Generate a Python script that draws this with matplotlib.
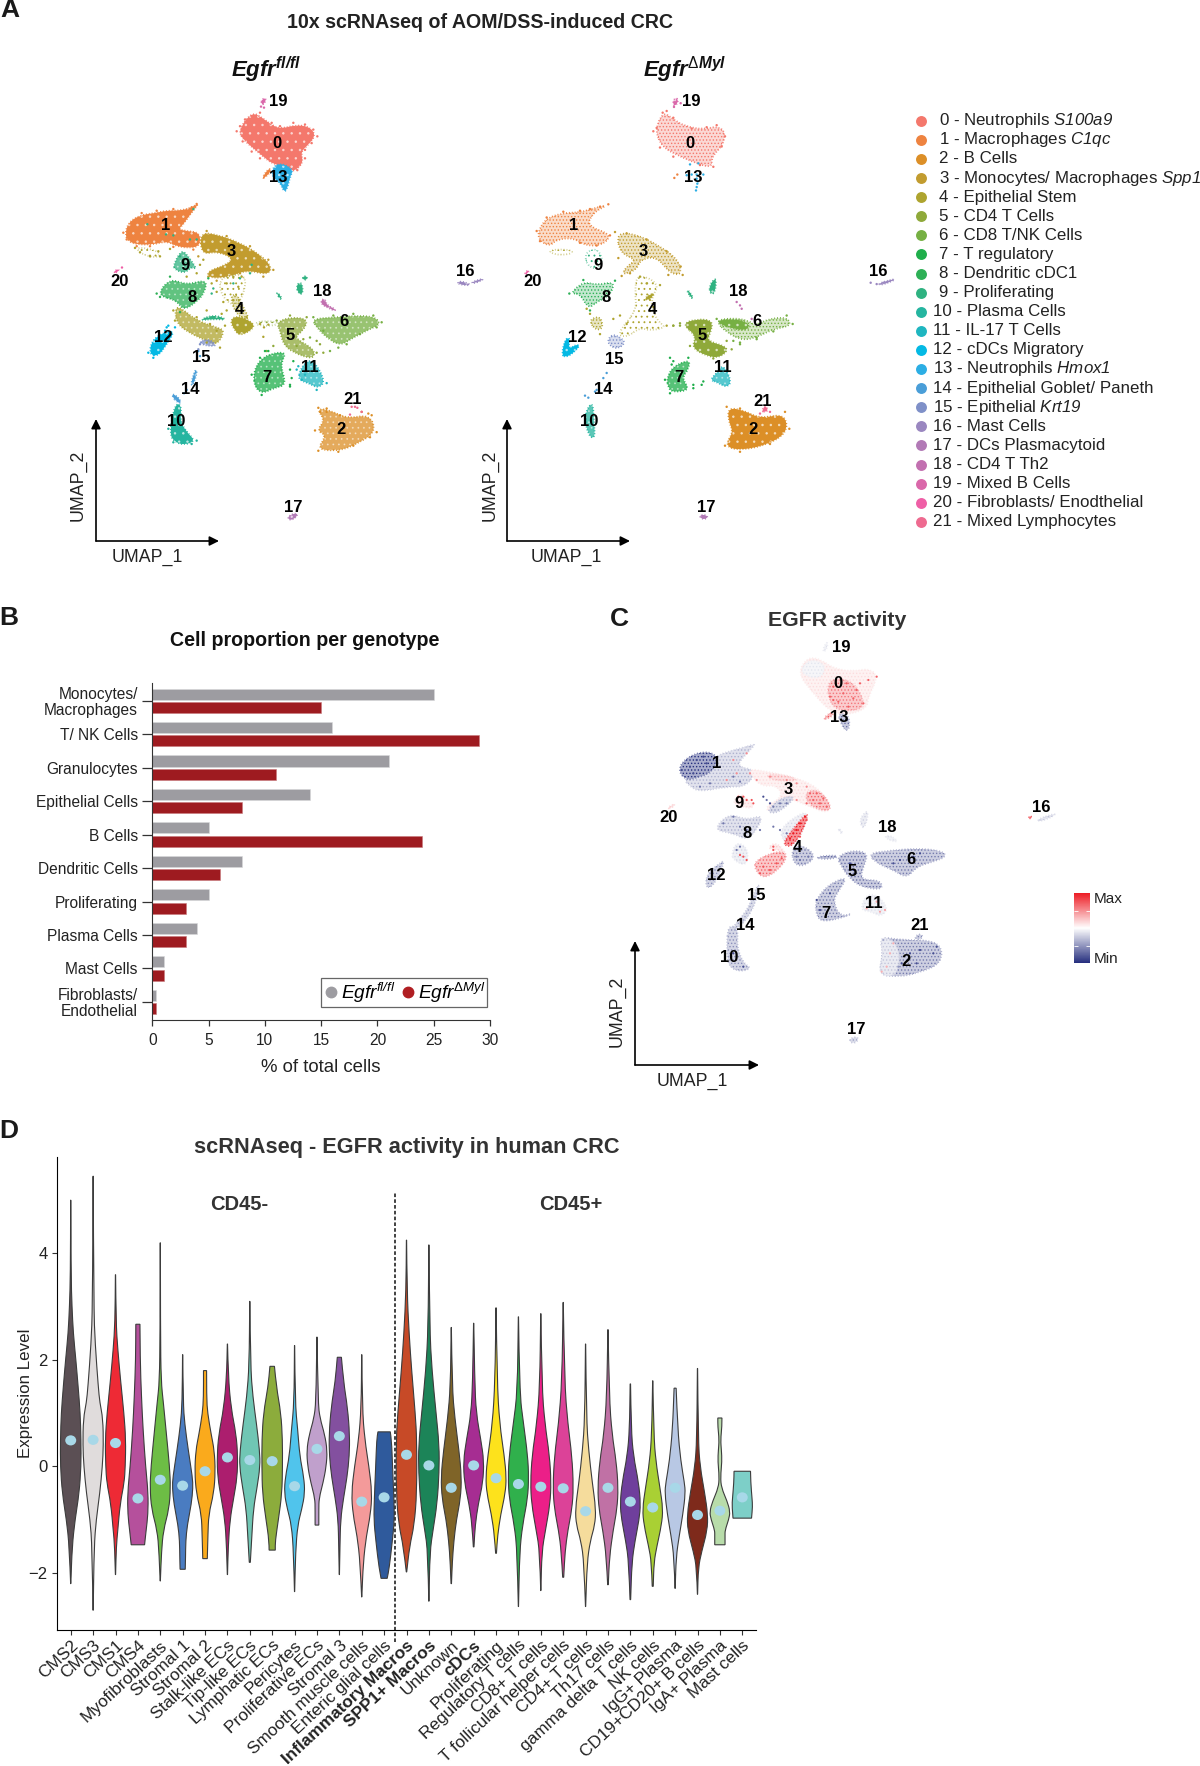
import numpy as np
import matplotlib
matplotlib.use('Agg')
import matplotlib.pyplot as plt
from matplotlib.colors import LinearSegmentedColormap, Normalize
from matplotlib.cm import ScalarMappable
from matplotlib.lines import Line2D
from matplotlib.patches import Ellipse, PathPatch
from matplotlib.path import Path

plt.rcParams['font.family'] = ['Liberation Sans', 'DejaVu Sans']
plt.rcParams['mathtext.fontset'] = 'custom'
plt.rcParams['mathtext.rm'] = 'Liberation Sans'
plt.rcParams['mathtext.it'] = 'Liberation Sans:italic'
plt.rcParams['mathtext.sf'] = 'Liberation Sans:italic'
plt.rcParams['mathtext.bf'] = 'Liberation Sans:bold'
plt.rcParams['mathtext.bfit'] = 'Liberation Sans:italic:bold'
plt.rcParams['hatch.linewidth'] = 0.6

W, H = 1200, 1766

# Cluster names and colours
cluster_names = ['0 - Neutrophils $\\mathsf{S100a9}$', '1 - Macrophages $\\mathsf{C1qc}$', '2 - B Cells',
                 '3 - Monocytes/ Macrophages $\\mathsf{Spp1}$', '4 - Epithelial Stem', '5 - CD4 T Cells',
                 '6 - CD8 T/NK Cells', '7 - T regulatory', '8 - Dendritic cDC1', '9 - Proliferating',
                 '10 - Plasma Cells', '11 - IL-17 T Cells', '12 - cDCs Migratory', '13 - Neutrophils $\\mathsf{Hmox1}$',
                 '14 - Epithelial Goblet/ Paneth', '15 - Epithelial $\\mathsf{Krt19}$', '16 - Mast Cells',
                 '17 - DCs Plasmacytoid', '18 - CD4 T Th2', '19 - Mixed B Cells', '20 - Fibroblasts/ Enodthelial',
                 '21 - Mixed Lymphocytes']
cluster_colors = ['#f4786c', '#ee8340', '#dc8f27', '#c29c2f', '#aea42f', '#8fa93a', '#76b043', '#1fae4b',
                  '#2db056', '#2fb281', '#25b5a0', '#1fb6c0', '#04b9e4', '#2caee4', '#4a9ed8', '#7f90c8',
                  '#9a87c0', '#b27ab6', '#c270b0', '#da68aa', '#ef5fa6', '#ee6a90']

# UMAP regions of the Egfr fl/fl sample: cluster, density, outline
wt_regions = [
    (0, 'solid', [(535,268),(575,212),(610,232),(640,255),(665,262),(705,252),(745,255),(768,280),(745,310),(722,330),(730,365),(700,390),(690,378),(640,368),(610,345),(580,320),(550,295)]),
    (13, 'solid', [(640,372),(670,365),(700,385),(690,405),(682,440),(672,450),(660,420),(635,405)]),
    (1, 'solid', [(605,410),(625,380),(635,385),(618,405)]),
    (19, 'solid', [(605,175),(620,172),(612,190),(604,190)]),
    (1, 'solid', [(195,575),(205,540),(240,518),(285,512),(318,505),(350,505),(385,500),(418,482),(395,510),(370,545),(355,560),(380,565),(420,570),(420,610),(385,615),(350,610),(320,595),(280,605),(230,605),(205,595)]),
    (4, 'sparse', [(225,610),(300,625),(295,645),(245,635)]),
    (3, 'solid', [(420,570),(470,575),(540,600),(600,635),(635,670),(625,695),(560,680),(510,700),(450,705),(440,685),(500,665),(520,645),(470,625),(425,635)]),
    (9, 'dense', [(340,665),(365,620),(385,640),(412,680),(395,670),(375,690),(345,680)]),
    (8, 'dense', [(290,755),(330,705),(380,725),(440,708),(435,745),(410,775),(370,800),(350,770)]),
    (4, 'sparse', [(480,700),(560,690),(550,760),(520,790),(480,750)]),
    (4, 'dense', [(345,795),(360,790),(410,830),(470,850),(495,860),(470,905),(430,885),(395,870),(350,840)]),
    (4, 'solid', [(510,830),(530,815),(580,835),(580,855),(540,875),(525,860)]),
    (4, 'mid', [(510,760),(530,750),(550,790),(570,830),(530,815)]),
    (9, 'solid', [(415,830),(460,812),(505,828),(460,825)]),
    (5, 'dense', [(650,835),(690,820),(745,825),(730,860),(700,880),(765,915),(760,945),(700,925),(670,900),(660,860)]),
    (5, 'sparse', [(590,832),(650,832),(650,845),(590,845)]),
    (6, 'dense', [(755,825),(830,820),(900,815),(945,820),(962,840),(930,855),(880,880),(840,905),(800,880),(770,850)]),
    (7, 'dense', [(580,985),(600,945),(640,925),(680,925),(660,960),(680,1020),(640,1030),(610,1045),(585,1030)]),
    (11, 'dense', [(720,975),(745,945),(770,960),(795,1010),(775,1030),(745,1015),(715,1005)]),
    (12, 'solid', [(268,930),(275,890),(310,865),(345,860),(320,900),(295,935)]),
    (15, 'dense', [(420,890),(450,885),(470,905),(445,905),(425,900)]),
    (14, 'solid', [(392,1020),(405,975),(412,980),(400,1020)]),
    (14, 'solid', [(333,1050),(345,1048),(365,1070),(355,1075)]),
    (10, 'solid', [(345,1075),(365,1080),(360,1130),(385,1165),(405,1185),(375,1198),(345,1190),(328,1165)]),
    (2, 'dense', [(770,1090),(810,1095),(860,1120),(930,1108),(948,1160),(890,1195),(840,1215),(770,1212),(800,1170),(770,1155),(795,1125)]),
    (17, 'solid', [(683,1408),(712,1398),(710,1412),(688,1422)]),
    (18, 'solid', [(783,770),(795,765),(800,785),(825,795),(825,802),(800,790),(785,782)]),
    (20, 'solid', [(160,685),(178,676),(170,690)]),
    (9, 'solid', [(708,725),(725,715),(730,750),(716,752)]),
    (9, 'solid', [(650,750),(654,747),(666,765),(662,767)]),
    (9, 'solid', [(728,700),(740,698),(742,708),(730,710)]),
]
# Scattered cells outside the regions above: cluster, x, y
wt_cells_c = ([4]*30 + [9]*13 + [5]*7 + [6]*3 + [7]*5 + [11]*2 + [12]*4 + [14]*4 + [15]*2 + [2]*4 + [21]*5 + [19]*2 + [20]
              + [0]*18 + [1]*12 + [3]*10 + [6]*9 + [5]*4 + [2]*10 + [7]*5 + [11]*4 + [10]*4 + [12]*2 + [8]*5 + [4]*4)
wt_cells_x = [225,240,270,295,300,330,430,420,410,380,455,470,500,520,490,520,500,485,440,410,450,495,600,612,625,610,470,560,545,535,
              570,540,520,575,460,455,390,410,318,340,262,400,360,
              620,640,730,780,790,770,710, 810,750,790, 615,700,690,695,690, 715,735, 325,315,320,345, 415,420,380,372, 420,415,
              800,780,905,935, 875,885,892,870,905, 603,612, 186,
              540,555,575,600,635,660,700,735,760,772,755,735,735,712,600,575,548,530,
              190,200,215,245,290,340,395,410,230,270,340,400,
              440,500,570,625,640,610,540,470,445,415,
              940,965,950,900,860,835,760,820,880, 650,690,740,770,
              775,800,840,925,950,930,880,835,775,765, 575,600,625,690,605, 710,725,800,770,
              325,340,395,410, 265,280, 290,300,330,445,360, 340,345,480,440]
wt_cells_y = [615,628,640,625,640,618,650,665,690,700,720,745,720,700,775,770,800,810,800,820,840,845,840,850,842,878,860,820,700,730,
              690,705,720,665,735,750,590,590,575,578,545,500,640,
              920,905,885,900,925,890,905, 920,880,860, 920,950,975,1000,1020, 965,990, 845,860,850,850, 920,935,1035,1045, 900,915,
              1100,1100,1100,1110, 1085,1085,1088,1108,1100, 197,200, 673,
              255,235,225,215,245,255,245,250,265,285,305,325,350,385,350,330,300,270,
              570,590,540,512,505,500,495,485,610,610,612,620,
              565,580,610,650,680,700,690,712,700,640,
              815,835,850,870,900,910,820,815,810, 830,815,820,925,
              1088,1090,1110,1105,1160,1175,1200,1218,1215,1155, 990,940,920,1025,1050, 975,1005,1015,1035,
              1150,1190,1195,1185, 925,940, 750,760,700,705,805, 800,830,910,895]

# UMAP regions of the Egfr dMyl sample, which also holds both mast cell tails
ko_regions = [
    (0, 'mid', [(645,265),(670,212),(700,235),(735,255),(790,265),(830,255),(855,270),(850,310),(815,345),(815,378),(770,365),(710,340),(665,315)]),
    (19, 'solid', [(700,175),(714,172),(712,190),(700,195)]),
    (1, 'mid', [(293,570),(315,530),(365,512),(420,510),(465,497),(505,487),(460,510),(440,550),(515,575),(490,605),(440,610),(400,585),(350,590),(330,610),(300,595)]),
    (4, 'sparse', [(325,620),(400,620),(390,635),(340,635)]),
    (3, 'mid', [(530,570),(590,575),(660,610),(715,650),(725,695),(690,690),(650,640),(600,650),(590,680),(545,695),(560,670),(590,650),(540,630)]),
    (9, 'sparse', [(435,630),(470,615),(490,650),(470,680),(440,665)]),
    (8, 'mid', [(390,750),(430,715),(470,725),(525,715),(510,755),(470,775),(445,795),(420,750)]),
    (4, 'sparse', [(590,690),(660,720),(630,770),(650,830),(680,850),(630,860),(600,850),(560,880),(530,870),(590,800),(585,750)]),
    (4, 'solid', [(610,765),(645,745),(630,770)]),
    (4, 'mid', [(445,830),(480,815),(490,850),(470,860)]),
    (15, 'mid', [(505,880),(525,870),(560,895),(530,915),(505,900)]),
    (12, 'solid', [(365,930),(375,885),(390,880),(385,915),(410,900),(420,905),(395,930),(375,938)]),
    (10, 'dense', [(432,1110),(458,1065),(462,1130),(465,1180),(445,1170)]),
    (7, 'dense', [(680,1000),(700,965),(750,945),(745,975),(725,1000),(750,1035),(700,1042),(685,1030)]),
    (5, 'solid', [(725,840),(770,825),(820,830),(810,870),(800,890),(870,910),(840,940),(800,935),(755,910),(770,875)]),
    (6, 'mid', [(825,830),(880,822),(925,830),(945,845),(985,825),(1040,820),(1055,845),(1000,855),(960,875),(910,890),(860,865)]),
    (6, 'solid', [(825,830),(890,825),(930,840),(920,860),(860,850)]),
    (11, 'dense', [(810,1005),(835,980),(850,960),(875,1010),(860,1028),(830,1012)]),
    (2, 'solid', [(865,1088),(910,1095),(960,1120),(1035,1105),(1043,1165),(960,1205),(880,1213),(857,1195),(880,1160),(865,1125)]),
    (21, 'solid', [(965,1098),(975,1080),(985,1095),(975,1100)]),
    (17, 'solid', [(778,1405),(800,1405),(803,1415),(785,1418)]),
    (20, 'solid', [(253,690),(268,678),(262,692)]),
    (16, 'solid', [(1315,720),(1365,706),(1360,712),(1322,726)]),
    (16, 'solid', [(95,716),(130,705),(126,711),(100,721)]),
    (16, 'solid', [(52,714),(75,716),(95,726),(58,724)]),
    (9, 'solid', [(740,742),(745,740),(760,762),(755,765)]),
    (9, 'solid', [(808,725),(830,700),(825,750),(810,750)]),
]
ko_cells_c = ([13]*11 + [1]*2 + [14]*6 + [18]*4 + [19]*2 + [4]*12 + [5]*4 + [6]*3 + [7]*5 + [21]*2 + [16]*3
              + [0]*14 + [1]*11 + [3]*10 + [2]*7 + [6]*6 + [5]*4 + [7]*5 + [8]*4)
ko_cells_x = [750,775,740,755,770,790,770,772,770,768,774, 703,712, 500,490,470,465,435,445, 890,900,905,935, 722,702,
              600,620,660,520,540,680,700,480,450,440,640,560, 700,720,750,860, 880,900,950, 690,700,760,785,790, 990,960, 1292,1310,1330,
              650,668,680,700,755,800,830,855,845,820,780,700,660,640,
              290,300,320,370,420,450,480,505,510,470,420,
              525,560,620,680,722,728,685,545,535,570,
              860,900,1035,1048,990,900,855, 830,1040,1058,1000,950,900, 720,750,875,820,
              675,695,745,690,760, 388,430,525,450]
ko_cells_y = [368,365,400,398,398,398,410,425,435,445,418, 408,398, 985,1000,1035,1040,1052,1058, 775,785,795,825, 187,198,
              700,720,725,825,815,845,845,870,810,795,790,840, 845,845,850,890, 890,900,885, 940,950,1020,1020,1010, 1100,1105, 718,722,718,
              260,215,210,230,262,258,252,285,315,375,370,345,318,270,
              565,595,525,508,505,500,493,486,578,608,600,
              568,572,590,625,670,695,695,698,645,690,
              1085,1090,1100,1150,1195,1218,1200, 825,815,840,862,880,895, 838,905,915,942,
              1005,960,940,1045,1030, 750,710,712,800]

# EGFR activity regions: activity (-1 Min .. 1 Max), outline
egfr_regions = [
    (0.1, [(592,218),(625,170),(665,180),(700,205),(760,215),(805,205),(835,228),(805,290),(800,325),(745,345),(690,335),(640,280)]),
    (0.4, [(680,235),(760,240),(800,320),(745,335),(690,320)]),
    (-0.08, [(595,218),(630,175),(680,195),(660,240)]),
    (-0.45, [(715,340),(745,345),(750,380),(738,395),(720,365)]),
    (0.5, [(670,355),(695,335),(700,345),(680,358)]),
    (-0.1, [(668,150),(680,125),(684,135),(675,155)]),
    (-0.25, [(250,535),(300,525),(340,470),(400,450),(440,440),(470,430),(430,470),(410,500),(470,510),(440,560),(380,560),(300,575),(270,560)]),
    (-0.7, [(235,515),(250,480),(300,455),(345,460),(350,490),(330,520),(285,535),(260,540)]),
    (0.1, [(440,505),(500,515),(580,530),(650,560),(695,615),(680,640),(630,620),(560,590),(510,640),(495,620),(550,590),(530,555),(480,560)]),
    (0.45, [(615,575),(660,570),(695,620),(680,635),(625,615)]),
    (0.25, [(500,520),(580,530),(590,545),(510,540)]),
    (-0.3, [(505,625),(550,590),(590,590),(540,635),(510,640)]),
    (0.12, [(395,610),(420,580),(440,595),(465,620),(440,625)]),
    (-0.25, [(340,690),(385,640),(440,660),(490,645),(470,690),(440,720),(400,700)]),
    (-0.12, [(540,685),(600,640),(625,640),(610,690),(580,735),(550,725)]),
    (0.85, [(550,725),(585,680),(610,650),(625,640),(610,690),(580,735),(560,740)]),
    (-0.12, [(395,760),(410,725),(445,745),(440,800),(400,780)]),
    (0.15, [(500,745),(530,725),(565,770),(540,750)]),
    (0.45, [(465,780),(540,750),(565,770),(530,815),(490,835),(465,810)]),
    (-0.42, [(575,745),(610,735),(650,770),(610,800),(580,790)]),
    (-0.5, [(650,770),(710,765),(710,775),(660,778)]),
    (-0.45, [(710,770),(760,750),(805,760),(790,800),(780,840),(840,840),(850,870),(780,860),(745,830),(725,800)]),
    (-0.42, [(805,760),(870,752),(950,745),(1025,752),(1040,770),(1000,785),(950,800),(920,835),(880,810),(830,790)]),
    (-0.42, [(645,900),(690,850),(745,830),(710,880),(700,905),(720,950),(760,940),(720,955),(670,965),(650,950)]),
    (-0.1, [(780,930),(800,880),(840,890),(865,930),(840,950),(815,935)]),
    (-0.35, [(315,855),(325,815),(360,790),(375,780),(350,840),(330,865)]),
    (-0.3, [(470,860),(478,855),(470,900),(440,960),(405,990),(395,985),(435,940),(455,900)]),
    (-0.35, [(385,975),(415,985),(410,1040),(430,1090),(455,1105),(420,1115),(385,1100),(380,1040)]),
    (-0.42, [(840,1010),(900,1020),(1020,1022),(1028,1090),(950,1120),(900,1130),(835,1125),(850,1060)]),
    (-0.18, [(838,1010),(880,1020),(900,1060),(890,1130),(835,1125),(850,1060)]),
    (-0.4, [(945,1010),(960,1000),(970,1012),(950,1020)]),
    (-0.3, [(750,1315),(775,1310),(770,1328),(750,1328)]),
    (-0.2, [(1312,658),(1365,640),(1362,648),(1320,665)]),
    (0.85, [(1285,648),(1296,650),(1292,658)]),
    (-0.1, [(855,705),(880,710),(895,728),(860,718)]),
    (-0.15, [(778,660),(800,630),(805,650),(790,690)]),
    (-0.15, [(712,680),(730,700),(722,700)]),
    (0.2, [(200,625),(228,608),(215,625)]),
]
egfr_cells_x = [700,730,760,790,770,745,715,700,830,805,780,740,690, 630,640,660,680,650,620,670, 590,600,615,580,570,
                520,430,440,420,490,510,480,530,545,430,460, 290,270,310,245,320,280,740,490,510,905,960,1000,950,1010,930,880,940,960,900,750,760,660,690,650,430,400,
                510,560,590,620,590,450,470,400,440,410,380, 620,600,440,415,520,455,
                500,520,540,560,330,300,360,400,420,480,420,370,400,440,540,560,520,590,600,625,410,420,
                830,840,800,855, 870,860,845,880,850,895]
egfr_cells_y = [260,280,295,310,270,320,305,300,230,240,250,250,290, 580,600,610,620,580,610,595, 690,670,650,700,715,
                740,770,780,765,800,810,820,790,775,590,610, 480,500,470,510,490,520,360,590,610,1090,1050,1060,1090,1040,1060,790,770,760,780,790,810,930,880,900,1100,1060,
                530,540,550,560,600,520,540,480,460,520,540, 660,710,600,590,750,600,
                600,620,610,610,550,560,500,530,545,690,680,670,650,690,690,700,680,770,780,770,750,740,
                905,935,925,930, 1060,1100,1115,1030,1020,1100]
egfr_cells_v = ([0.7]*13 + [0.7]*7 + [1.0]*5 + [0.75]*11 + [-0.85]*26
                + [0.5]*11 + [0.75]*6 + [-0.65]*22 + [0.4]*4 + [0.35]*4 + [-0.4, -0.5])

# Bar chart values
bar_groups = ['Monocytes/\nMacrophages', 'T/ NK Cells', 'Granulocytes', 'Epithelial Cells', 'B Cells',
              'Dendritic Cells', 'Proliferating', 'Plasma Cells', 'Mast Cells', 'Fibroblasts/\nEndothelial']
bar_fl = [25, 16, 21, 14, 5, 8, 5, 4, 1, 0.3]
bar_myl = [15, 29, 11, 8, 24, 6, 3, 3, 1, 0.3]

# Violin labels, colours, centres and outlines (levels and relative widths)
violin_names = ['CMS2', 'CMS3', 'CMS1', 'CMS4', 'Myofibroblasts', 'Stromal 1', 'Stromal 2', 'Stalk-like ECs',
                'Tip-like ECs', 'Lymphatic ECs', 'Pericytes', 'Proliferative ECs', 'Stromal 3', 'Smooth muscle cells',
                'Enteric glial cells', 'Inflammatory Macros', 'SPP1+ Macros', 'Unknown', 'cDCs', 'Proliferating',
                'Regulatory T cells', 'CD8+ T cells', 'T follicular helper cells', 'CD4+ T cells', 'Th17 cells',
                'gamma delta T cells', 'NK cells', 'IgG+ Plasma', 'CD19+CD20+ B cells', 'IgA+ Plasma', 'Mast cells']
violin_bold = ['Inflammatory Macros', 'SPP1+ Macros', 'cDCs']
violin_colors = ['#5b4f54', '#e0dcdc', '#ee2a35', '#b5509c', '#6dbd45', '#4a7cc1', '#faaa1c', '#ac1e6e', '#70c6b4',
                 '#8cac3c', '#50c4ec', '#c0a0cc', '#83509f', '#f49a9a', '#2f5a9c', '#c74a27', '#1c8458', '#7f6428',
                 '#a62d92', '#fde21c', '#30b04c', '#ec1f88', '#dc4298', '#f5dc9c', '#c071a5', '#6f3f9c', '#a9d034',
                 '#b8c8e4', '#7e2a1b', '#b8dcaa', '#7dcfc8']
violin_centers = [0.49, 0.5, 0.44, -0.6, -0.25, -0.36, -0.09, 0.17, 0.12, 0.1, -0.37, 0.33, 0.57, -0.66, -0.58, 0.22,
                  0.02, -0.4, 0.02, -0.22, -0.33, -0.38, -0.41, -0.84, -0.4, -0.66, -0.77, -0.4, -0.91, -0.83, -0.58]
violin_levels = [
    [5.0, 3.6, 3.0, 2.5, 2.0, 1.5, 1.0, 0.5, 0, -0.5, -1, -1.5, -2.2],
    [5.45, 3, 2.3, 1.5, 1.2, 0.9, 0.4, 0, -0.5, -1, -1.5, -2.7],
    [3.6, 2.7, 2.2, 1.6, 1.0, 0.5, 0, -0.3, -0.7, -1.2, -1.5, -2.03],
    [2.67, 2, 1.3, 0.7, 0, -0.5, -0.9, -1.2, -1.47],
    [4.2, 2.5, 1.6, 1.2, 0.6, 0, -0.4, -0.8, -1.2, -1.6, -2.15],
    [2.1, 1.2, 0.8, 0.3, -0.2, -0.4, -0.7, -1.1, -1.4, -1.7, -1.93],
    [1.8, 1.3, 1, 0.6, 0.3, -0.1, -0.5, -0.9, -1.3, -1.73],
    [2.3, 1.7, 1.1, 0.6, 0.2, -0.2, -0.6, -1, -1.5, -2.03],
    [3.1, 1.9, 1.3, 0.8, 0.3, 0, -0.4, -0.8, -1.3, -1.8],
    [1.88, 1.5, 1, 0.5, 0, -0.5, -1, -1.4, -1.57],
    [2.27, 1.2, 0.7, 0.2, -0.2, -0.5, -0.8, -1.1, -1.6, -2.35],
    [2.43, 1.2, 0.9, 0.6, 0.3, 0, -0.3, -0.6, -0.8, -1.1],
    [2.05, 1.6, 1.1, 0.6, 0.2, -0.2, -0.6, -1, -1.5, -2.03],
    [2.1, 1.1, 0.5, 0, -0.5, -0.9, -1.3, -1.8, -2.45],
    [0.65, 0.5, 0, -0.6, -1, -1.4, -1.9, -2.1],
    [4.25, 3.3, 2.5, 1.8, 1, 0.5, -0.5, -1.1, -1.5, -1.98],
    [4.16, 2.6, 1.8, 1, 0.4, -0.1, -0.7, -1.2, -1.6, -2.53],
    [2.61, 1.5, 0.9, 0.3, -0.2, -0.6, -1, -1.4, -1.8, -2.2],
    [2.69, 1.6, 1, 0.5, 0.1, -0.3, -0.7, -1.1, -1.51],
    [2.98, 1.6, 0.8, 0.2, -0.2, -0.5, -0.9, -1.3, -1.63],
    [2.81, 1.4, 0.8, 0.2, -0.2, -0.6, -1.1, -1.6, -2.63],
    [2.87, 1.5, 0.8, 0.2, -0.3, -0.7, -1.2, -1.6, -2.33],
    [3.08, 1.6, 0.8, 0.2, -0.4, -0.8, -1.2, -1.6, -2.08],
    [2.3, 0.9, 0.3, -0.3, -0.8, -1.1, -1.4, -1.8, -2.63],
    [2.57, 1.3, 0.6, 0.1, -0.4, -0.8, -1.2, -1.7, -2.22],
    [1.55, 0.7, 0.2, -0.3, -0.7, -1, -1.4, -1.8, -2.5],
    [1.61, 0.6, 0.1, -0.4, -0.8, -1.1, -1.5, -1.8, -2.25],
    [1.47, 0.7, 0.1, -0.3, -0.5, -0.9, -1.3, -1.7, -2.29],
    [1.84, 0.5, 0, -0.5, -0.9, -1.2, -1.6, -1.9, -2.4],
    [0.91, 0.75, 0.5, 0.3, 0.1, -0.2, -0.4, -0.65, -0.85, -1, -1.2, -1.3, -1.47],
    [-0.09, -0.3, -0.6, -0.75, -0.97],
]
violin_widths = [
    [0.01, 0.03, 0.12, 0.25, 0.5, 0.72, 0.92, 1, 1, 0.82, 0.42, 0.14, 0.01],
    [0.01, 0.06, 0.2, 0.5, 0.65, 0.95, 1, 0.9, 0.65, 0.3, 0.1, 0.01],
    [0.01, 0.05, 0.22, 0.5, 0.82, 1, 0.95, 0.85, 0.45, 0.22, 0.08, 0.01],
    [0.2, 0.22, 0.35, 0.5, 0.75, 1, 0.98, 0.8, 0.65],
    [0.01, 0.02, 0.08, 0.3, 0.6, 0.9, 1, 0.85, 0.3, 0.12, 0.01],
    [0.01, 0.05, 0.2, 0.55, 0.95, 1, 0.85, 0.45, 0.3, 0.28, 0.25],
    [0.15, 0.15, 0.25, 0.6, 0.9, 1, 0.85, 0.35, 0.28, 0.22],
    [0.01, 0.08, 0.35, 0.85, 1, 0.95, 0.6, 0.25, 0.08, 0.01],
    [0.01, 0.06, 0.3, 0.65, 0.95, 1, 0.7, 0.35, 0.2, 0.05],
    [0.22, 0.4, 0.85, 1, 1, 0.95, 0.6, 0.3, 0.3],
    [0.01, 0.05, 0.3, 0.5, 0.9, 1, 0.7, 0.3, 0.1, 0.01],
    [0.01, 0.1, 0.3, 0.75, 1, 0.9, 0.6, 0.2, 0.18, 0.18],
    [0.2, 0.4, 0.8, 1, 0.97, 0.75, 0.4, 0.12, 0.06, 0.01],
    [0.01, 0.05, 0.3, 0.7, 1, 0.85, 0.45, 0.15, 0.01],
    [0.6, 0.72, 0.82, 0.95, 1, 0.8, 0.5, 0.3],
    [0.01, 0.05, 0.25, 0.5, 0.85, 1, 1, 0.75, 0.3, 0.02],
    [0.01, 0.07, 0.3, 0.7, 1, 1, 0.8, 0.4, 0.1, 0.01],
    [0.01, 0.08, 0.35, 0.75, 1, 0.9, 0.5, 0.25, 0.1, 0.02],
    [0.01, 0.1, 0.25, 0.7, 1, 0.9, 0.45, 0.15, 0.03],
    [0.01, 0.1, 0.35, 0.8, 1, 0.9, 0.45, 0.15, 0.04],
    [0.01, 0.1, 0.5, 0.9, 1, 0.9, 0.4, 0.12, 0.01],
    [0.01, 0.1, 0.4, 0.85, 1, 0.9, 0.45, 0.1, 0.01],
    [0.01, 0.12, 0.45, 0.85, 1, 0.85, 0.45, 0.18, 0.05],
    [0.01, 0.08, 0.3, 0.65, 1, 0.9, 0.45, 0.15, 0.01],
    [0.01, 0.12, 0.4, 0.8, 1, 0.88, 0.5, 0.15, 0.03],
    [0.02, 0.08, 0.3, 0.8, 1, 0.85, 0.45, 0.15, 0.03],
    [0.01, 0.1, 0.3, 0.7, 1, 0.85, 0.4, 0.12, 0.05],
    [0.1, 0.25, 0.55, 0.9, 1, 0.75, 0.4, 0.1, 0.01],
    [0.01, 0.07, 0.25, 0.7, 1, 0.95, 0.4, 0.08, 0.01],
    [0.2, 0.2, 0.07, 0.15, 0.2, 0.06, 0.15, 0.7, 1, 0.85, 0.5, 0.5, 0.5],
    [0.8, 0.82, 0.95, 1, 0.9],
]

# Cluster numbers and their pixel positions on the page
label_names = ['19','0','13','1','3','9','20','8','4','18','6','5','12','15','11','7','14','21','10','2','17','16']
wt_label_x = [278,277,278,166,231,185,120,192,239,322,344,290,163,201,310,267,190,353,176,341,293,465]
wt_label_y = [102,143,177,225,251,265,282,297,310,292,321,335,338,358,367,377,389,399,422,429,508,272]
ko_label_x = [691,690,693,574,643,598,533,606,652,738,757,702,577,614,723,679,603,763,589,753,706,878]
ko_label_y = [102,143,177,225,251,265,282,297,310,292,322,335,338,360,367,378,389,402,422,429,508,272]
c_label_x = [841,838,839,717,788,739,669,747,797,887,911,852,716,756,874,826,745,920,729,906,856,1041]
c_label_y = [647,683,717,764,789,803,818,834,848,828,859,872,875,896,903,913,925,926,958,961,1029,807]


def to_fig(x, y, w, h):
    return [x / W, 1 - (y + h) / H, w / W, h / H]


def umap_axes(x, y, w, h, scale_y=2.958):
    ax = fig.add_axes(to_fig(x, y, w, h))
    ax.set_xlim(0, w * 3.0)
    ax.set_ylim(h * scale_y, 0)
    ax.axis('off')
    return ax


def rounded_path(pts):
    # closed outline with the corners taken off
    n = len(pts)
    mids = [((pts[i][0] + pts[(i + 1) % n][0]) / 2, (pts[i][1] + pts[(i + 1) % n][1]) / 2) for i in range(n)]
    verts = [mids[-1]]
    codes = [Path.MOVETO]
    for i in range(n):
        verts += [pts[i], mids[i]]
        codes += [Path.CURVE3, Path.CURVE3]
    return Path(verts, codes)


def speckled(ax, pts, face, dots, hatch, fringe):
    # fill, dotted cell texture and a broken edge so the rim does not read as a line
    path = rounded_path(pts)
    ax.add_patch(PathPatch(path, facecolor=face, edgecolor=dots, hatch=hatch, linewidth=0))
    ax.add_patch(PathPatch(path, facecolor='none', edgecolor=fringe, linewidth=1.3, linestyle=(0, (0.5, 1.1))))


def draw_umap(ax, regions, cells_c, cells_x, cells_y):
    for cluster, density, pts in regions:
        color = cluster_colors[cluster]
        if density == 'solid':
            speckled(ax, pts, color, '#ffffff90', '..', color)
        elif density == 'dense':
            speckled(ax, pts, color + 'c0', '#ffffff70', '...', color)
        elif density == 'mid':
            speckled(ax, pts, color + '48', color, '.....', color)
        else:
            speckled(ax, pts, 'none', color, '...', color + '90')
    ax.scatter(cells_x, cells_y, s=3, c=[cluster_colors[c] for c in cells_c], linewidths=0)


def half_outline(xs, ys):
    verts = [(xs[0], ys[0])]
    codes = [Path.LINETO]
    for i in range(1, len(xs) - 1):
        verts += [(xs[i], ys[i]), ((xs[i] + xs[i + 1]) / 2, (ys[i] + ys[i + 1]) / 2)]
        codes += [Path.CURVE3, Path.CURVE3]
    verts.append((xs[-1], ys[-1]))
    codes.append(Path.LINETO)
    return verts, codes


def violin_outline(k, levels, widths, half=0.46):
    # right side down then left side up, ends left flat
    lv = np.array(levels, dtype=float)
    wd = np.array(widths, dtype=float) * half
    v1, c1 = half_outline(k + wd, lv)
    v2, c2 = half_outline((k - wd)[::-1], lv[::-1])
    c1[0] = Path.MOVETO
    return Path(v1 + v2 + [v1[0]], c1 + c2 + [Path.CLOSEPOLY])


fig = plt.figure(figsize=(12, 17.66), dpi=100)

# Panel A
ax_wt = umap_axes(60, 40, 430, 530)
draw_umap(ax_wt, wt_regions, wt_cells_c, wt_cells_x, wt_cells_y)
ax_ko = umap_axes(440, 40, 480, 530)
draw_umap(ax_ko, ko_regions, ko_cells_c, ko_cells_x, ko_cells_y)

# Panel C
egfr_cmap = LinearSegmentedColormap.from_list('egfr', ['#252e7e', '#ffffff', '#ed1c24'])
egfr_norm = Normalize(-1, 1)
ax_c = fig.add_axes(to_fig(600, 600, 480, 500))
ax_c.set_xlim(0, 1440)
ax_c.set_ylim(1500, 0)
ax_c.axis('off')
for value, pts in egfr_regions:
    speckled(ax_c, pts, egfr_cmap(egfr_norm(value * 0.55)), egfr_cmap(egfr_norm(value * 1.5)), '.....',
             egfr_cmap(egfr_norm(value * 0.9)))
ax_c.scatter(egfr_cells_x, egfr_cells_y, s=2.5, c=egfr_cells_v, cmap=egfr_cmap, norm=egfr_norm, linewidths=0)

cax = fig.add_axes(to_fig(1074, 893, 16, 70))
cbar = fig.colorbar(ScalarMappable(norm=egfr_norm, cmap=egfr_cmap), cax=cax, ticks=[-0.5, 0.5])
cbar.outline.set_visible(False)
cbar.set_ticklabels([])
cax.tick_params(axis='y', length=3, width=0.6, color='white', direction='in', right=True, left=True)

# Panel B
ax_bar = fig.add_axes(to_fig(152.3, 682.7, 337.7, 337.3))
pos = np.arange(len(bar_groups))
ax_bar.barh(pos - 0.2, bar_fl, height=0.33, color='#9d9ca1', edgecolor='#d8d8da', linewidth=0.4)
ax_bar.barh(pos + 0.2, bar_myl, height=0.33, color='#9e1b20', edgecolor='#c8797c', linewidth=0.4)
ax_bar.set_xlim(0, 30)
ax_bar.set_ylim(9.54, -0.54)
ax_bar.set_yticks(pos)
ax_bar.set_yticklabels(bar_groups, fontsize=11.2, color='#222222', linespacing=1.05)
ax_bar.set_xticks([0, 5, 10, 15, 20, 25, 30])
ax_bar.tick_params(axis='x', labelsize=11.2, length=4.5, width=0.9, color='#333333', labelcolor='#222222', pad=5)
ax_bar.tick_params(axis='y', length=7.5, width=0.9, color='#333333', pad=3)
ax_bar.spines['top'].set_visible(False)
ax_bar.spines['right'].set_visible(False)
ax_bar.spines['left'].set_color('#333333')
ax_bar.spines['bottom'].set_color('#333333')
ax_bar.set_xlabel('% of total cells', fontsize=13.4, color='#222222', labelpad=8)
bar_handles = [Line2D([], [], linestyle='none', marker='o', ms=7.5, color='#9d9ca1'),
               Line2D([], [], linestyle='none', marker='o', ms=7.5, color='#b01e22')]
bar_legend = ax_bar.legend(bar_handles, ['$\\mathsf{Egfr}^{\\mathsf{fl/fl}}$', '$\\mathsf{Egfr}^{\\Delta\\mathsf{Myl}}$'],
                           ncol=2, loc='lower right', bbox_to_anchor=(0.992, 0.038), fontsize=13.8, fancybox=False,
                           framealpha=1, edgecolor='#666666', handlelength=0.8, handletextpad=0.1, columnspacing=0.25,
                           borderpad=0.12, borderaxespad=0)
bar_legend.get_frame().set_linewidth(0.9)

# Panel D
ax_v = fig.add_axes(to_fig(57.3, 1157, 698.4, 473))
for k in range(len(violin_names)):
    ax_v.add_patch(PathPatch(violin_outline(k, violin_levels[k], violin_widths[k]),
                             facecolor=violin_colors[k], edgecolor='#3c3c3c', linewidth=0.8))
    ax_v.add_patch(Ellipse((k, violin_centers[k]), 0.49, 0.19, facecolor='#a8d8e8', edgecolor='none', zorder=4))
ax_v.plot([14.5, 14.5], [-3.3, 5.13], linestyle='--', color='#333333', linewidth=1.3, dashes=(2, 1.2), clip_on=False)
ax_v.set_xlim(-0.6, 30.6)
ax_v.set_ylim(-3.07, 5.81)
ax_v.set_yticks([-2, 0, 2, 4])
ax_v.set_yticklabels(['\u22122', '0', '2', '4'])
ax_v.set_xticks(range(len(violin_names)))
ax_v.set_xticklabels(violin_names, rotation=43, ha='right', rotation_mode='anchor', fontsize=12.4, color='#222222')
for lab in ax_v.get_xticklabels():
    if lab.get_text() in violin_bold:
        lab.set_fontweight('bold')
ax_v.tick_params(axis='y', labelsize=12, length=3.5, width=0.8, color='#333333', labelcolor='#222222')
ax_v.tick_params(axis='x', length=3.5, width=0.8, color='#333333', pad=2)
ax_v.spines['top'].set_visible(False)
ax_v.spines['right'].set_visible(False)
ax_v.set_ylabel('Expression Level', fontsize=12.2, color='#222222', labelpad=-3)

# Page overlay: titles, cluster numbers, arrows and legend
page = fig.add_axes([0, 0, 1, 1], zorder=10)
page.set_xlim(0, W)
page.set_ylim(H, 0)
page.axis('off')

for letter, lx, ly in [('A', 10, 10), ('B', 9, 618), ('C', 619, 619), ('D', 9, 1131)]:
    page.text(lx, ly, letter, fontsize=19, fontweight='bold', ha='center', va='center', color='#1a1a1a')

page.text(480, 22.5, '10x scRNAseq of AOM/DSS-induced CRC', fontsize=14.1, fontweight='bold', ha='center', va='center', color='#222222')
page.text(305, 640, 'Cell proportion per genotype', fontsize=14.1, fontweight='bold', ha='center', va='center', color='#111111')
page.text(837, 621, 'EGFR activity', fontsize=15.3, fontweight='bold', ha='center', va='center', color='#333333')
page.text(407, 1148, 'scRNAseq - EGFR activity in human CRC', fontsize=15.7, fontweight='bold', ha='center', va='center', color='#333333')
page.text(239, 1204, 'CD45-', fontsize=14.5, fontweight='bold', ha='center', va='center', color='#333333')
page.text(571, 1204, 'CD45+', fontsize=14.5, fontweight='bold', ha='center', va='center', color='#333333')
page.text(266, 70, '$\\mathbfit{Egfr}^{\\mathbfit{fl/fl}}$', fontsize=16, ha='center', va='center', color='#111111')
page.text(685, 70, '$\\mathbfit{Egfr}^{\\Delta\\mathbfit{Myl}}$', fontsize=16, ha='center', va='center', color='#111111')

for xs, ys in [(wt_label_x, wt_label_y), (ko_label_x, ko_label_y), (c_label_x, c_label_y)]:
    for name, lx, ly in zip(label_names, xs, ys):
        page.text(lx, ly, name, fontsize=12, fontweight='bold', ha='center', va='center', color='black')

# UMAP arrows: corner x, corner y, top y, right x, label anchors
for cx, cy, top, right, ux, uy, vx, vy in [(96, 541, 419, 219, 147, 557, 78, 485),
                                           (507, 541, 419, 630, 566, 557, 490, 485),
                                           (635, 1065, 941, 759, 692, 1081, 617, 1011)]:
    for end in [(cx, top), (right, cy)]:
        page.annotate('', xy=end, xytext=(cx, cy),
                      arrowprops=dict(arrowstyle='-|>', color='black', lw=1.2, mutation_scale=14, shrinkA=0, shrinkB=0))
    page.text(ux, uy, 'UMAP_1', fontsize=12.8, ha='center', va='center', color='#222222')
    page.text(vx, vy, 'UMAP_2', fontsize=12.8, rotation=90, ha='center', va='center', color='#222222')

page.text(1094, 899, 'Max', fontsize=11, va='center', color='#222222')
page.text(1094, 959, 'Min', fontsize=11, va='center', color='#222222')

for i, (name, color) in enumerate(zip(cluster_names, cluster_colors)):
    row_y = 120.7 + 19.1 * i
    page.scatter([921], [row_y], s=62, color=color, linewidths=0)
    page.text(939 if i < 10 else 933, row_y, name, fontsize=12.2, va='center', color='#222222')

fig.savefig('out.png', dpi=100)
